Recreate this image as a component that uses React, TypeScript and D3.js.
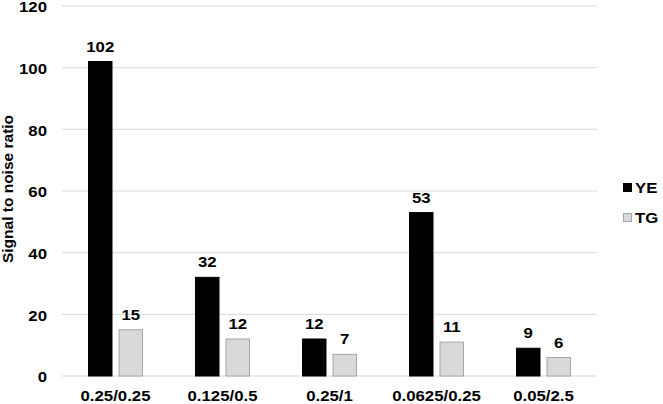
import React from "react";
import * as d3 from "d3";

const categories = ["0.25/0.25", "0.125/0.5", "0.25/1", "0.0625/0.25", "0.05/2.5"];
const seriesNames = ["YE", "TG"];
const yeValues = [102, 32, 12, 53, 9];
const tgValues = [15, 12, 7, 11, 6];
const yTicks = [0, 20, 40, 60, 80, 100, 120];

const colors: Record<string, string> = { YE: "#000000", TG: "#d9d9d9" };
const strokes: Record<string, string> = { YE: "#000000", TG: "#a6a6a6" };

const font = "'Liberation Sans', Arial, sans-serif";
const SX = 1.12;

function T(props: { x: number; y: number; anchor?: string; dy?: string; children: React.ReactNode }) {
  return (
    <text
      transform={`translate(${props.x},${props.y}) scale(${SX},1)`}
      dy={props.dy}
      textAnchor={props.anchor || "start"}
      fontFamily={font}
      fontWeight="bold"
      fontSize={15}
      fill="#000"
    >
      {props.children}
    </text>
  );
}

export default function App() {
  const W = 663, H = 404;
  const left = 62, right = 597, top = 6, bottom = 376;
  const y = d3.scaleLinear().domain([0, 120]).range([bottom, top]);
  const x0 = d3.scaleBand<string>().domain(categories).range([left, right]).paddingInner(0).paddingOuter(0);
  const bw = x0.bandwidth();
  const x1 = d3.scaleBand<string>().domain(seriesNames).range([(bw - 55) / 2, (bw + 55) / 2]).paddingInner(0.197);
  const data: Record<string, number[]> = { YE: yeValues, TG: tgValues };

  return (
    <svg width={W} height={H} style={{ position: "absolute", left: 0, top: 0, background: "#fff" }}>
      <rect width={W} height={H} fill="#fff" />
      {yTicks.map((t) => (
        <g key={t}>
          <line x1={left} x2={right} y1={y(t)} y2={y(t)} stroke="#d9d9d9" strokeWidth={1} />
          <T x={47} y={y(t) + 1} dy="0.35em" anchor="end">{t}</T>
        </g>
      ))}
      <text transform={`translate(13,189) rotate(-90)`} textAnchor="middle" fontFamily={font} fontWeight="bold" fontSize={15.5} fill="#000">Signal to noise ratio</text>
      {categories.map((c, i) => (
        <g key={c} transform={`translate(${x0(c)},0)`}>
          {seriesNames.map((s) => {
            const v = data[s][i];
            const bx = x1(s)!;
            return (
              <g key={s}>
                <rect x={bx + 0.5} y={y(v)} width={x1.bandwidth() - 1} height={bottom - y(v)} fill={colors[s]} stroke={strokes[s]} strokeWidth={1} />
                <T x={bx + x1.bandwidth() / 2} y={y(v) - 10} anchor="middle">{v}</T>
              </g>
            );
          })}
          <T x={bw / 2} y={401} anchor="middle">{c}</T>
        </g>
      ))}
      {seriesNames.map((s, i) => (
        <g key={s} transform={`translate(623,${187.5 + i * 30})`}>
          <rect x={0.5} y={-4} width={8} height={8} fill={colors[s]} stroke={strokes[s]} strokeWidth={1} />
          <T x={12} y={0} dy="0.35em">{s}</T>
        </g>
      ))}
    </svg>
  );
}
